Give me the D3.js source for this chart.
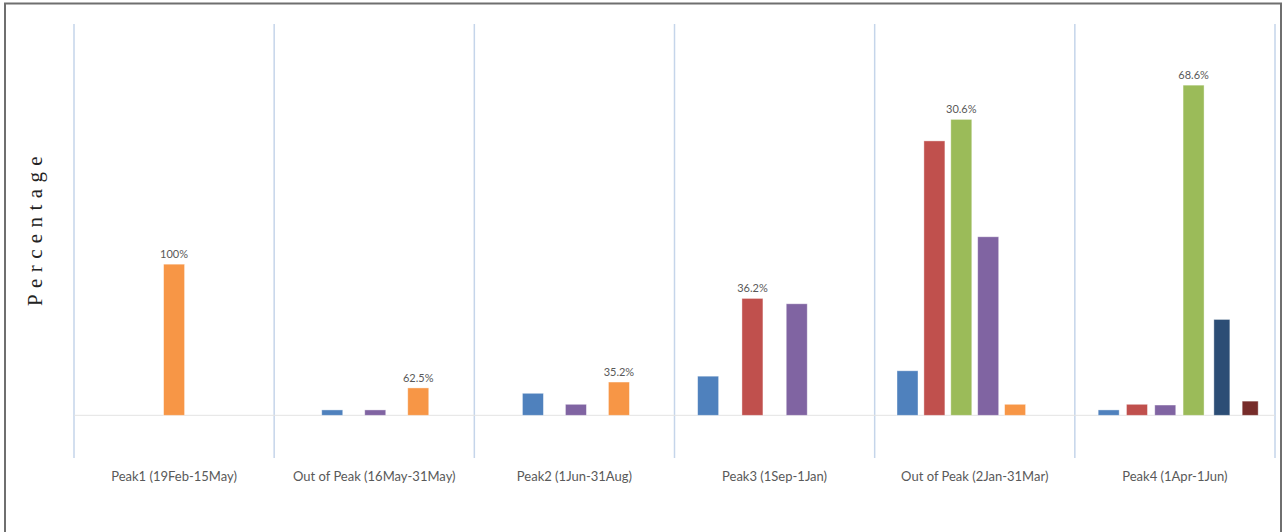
<!DOCTYPE html>
<html><head><meta charset="utf-8">
<script src="https://cdn.jsdelivr.net/npm/d3@7"></script>
<style>body{margin:0;background:#fff}svg{display:block}</style>
</head><body>
<svg id="c" width="1284" height="532"></svg>
<script>
// ---- data ----
const categories = ["Peak1 (19Feb-15May)","Out of Peak (16May-31May)","Peak2 (1Jun-31Aug)","Peak3 (1Sep-1Jan)","Out of Peak (2Jan-31Mar)","Peak4 (1Apr-1Jun)"];
const seriesKeys = ["A","B","C","D","E","F","G"];
// series present in each group, in drawing order
const groupSeries = [
  ["E"],
  ["A","D","E"],
  ["A","D","E"],
  ["A","B","D","E"],
  ["A","B","C","D","E","F"],
  ["A","B","D","C","F","G"]
];
// bar values (relative counts) per group, same order as groupSeries
const groupValues = [
  [30.9],
  [1.1, 1.1, 5.6],
  [4.5, 2.25, 6.8],
  [8.0, 23.9, 22.8, 0],
  [9.1, 56.1, 60.5, 36.5, 2.25, 0],
  [1.1, 2.25, 2.1, 67.5, 19.6, 2.9]
];
// percentage labels: [groupIndex, seriesKey, text]
const labelData = [
  [0,"E","100%"],[1,"E","62.5%"],[2,"E","35.2%"],[3,"B","36.2%"],[4,"C","30.6%"],[5,"C","68.6%"]
];
const yLabel = "Percentage";

// ---- styles / layout ----
const colors = {A:"#4f81bd",B:"#c0504d",C:"#9bbb59",D:"#8064a2",E:"#f79646",F:"#2c4d75",G:"#772c2a"};
const narrow = {F:16/21, G:16/21};
const innerStep = [43, 43, 43, 44.3, 26.9, 28.3];
const innerShift = [0, 1, 1.5, 0, 0, 4.5];
const barW = 21;

const svg = d3.select("#c");
// frame
svg.append("rect").attr("x",5).attr("y",3.5).attr("width",1276).attr("height",560)
  .attr("fill","none").attr("stroke","#6f6f6f").attr("stroke-width",2);

const x = d3.scaleBand().domain(categories).range([74,1275]).padding(0);
const y = d3.scaleLinear().domain([0,80]).range([415.3,24]);

// vertical separators
const seps = categories.map(c=>x(c)).concat([x.range()[1]]);
svg.append("g").selectAll("line").data(seps).join("line")
  .attr("x1",d=>d).attr("x2",d=>d).attr("y1",24).attr("y2",458)
  .attr("stroke","#c5d5ea").attr("stroke-width",1.5);
// baseline
svg.append("line").attr("x1",74).attr("x2",1275).attr("y1",y(0)).attr("y2",y(0))
  .attr("stroke","#e3e3e3").attr("stroke-width",1);

const inner = categories.map((c,i)=>{
  const n = groupSeries[i].length, st = innerStep[i];
  const cx = x(c) + x.bandwidth()/2 + innerShift[i];
  const p = 1 - barW/st;
  return d3.scaleBand().domain(groupSeries[i]).range([cx - n*st/2, cx + n*st/2]).paddingInner(p).paddingOuter(p/2);
});

const bars = [];
categories.forEach((c,i)=>groupSeries[i].forEach((k,j)=>bars.push({g:i,k,v:groupValues[i][j]})));
svg.append("g").selectAll("rect").data(bars.filter(d=>d.v>0)).join("rect")
  .attr("x",d=>{const s=inner[d.g]; const w=s.bandwidth()*(narrow[d.k]||1); return s(d.k)+(s.bandwidth()-w)/2;})
  .attr("width",d=>inner[d.g].bandwidth()*(narrow[d.k]||1))
  .attr("y",d=>y(d.v)).attr("height",d=>y(0)-y(d.v))
  .attr("fill",d=>colors[d.k]).attr("stroke","#ffffff").attr("stroke-opacity",0.5).attr("stroke-width",0.8);

// percentage labels
svg.append("g").selectAll("text").data(labelData).join("text")
  .attr("x",d=>inner[d[0]](d[1])+inner[d[0]].bandwidth()/2)
  .attr("y",d=>{const j=groupSeries[d[0]].indexOf(d[1]); return y(groupValues[d[0]][j])-6;})
  .attr("text-anchor","middle").attr("font-family","Lato, 'Open Sans', sans-serif").attr("font-size",11)
  .attr("fill","#595959").text(d=>d[2]);

// category labels
svg.append("g").selectAll("text").data(categories).join("text")
  .attr("x",d=>x(d)+x.bandwidth()/2).attr("y",480.5)
  .attr("text-anchor","middle").attr("font-family","Lato, 'Open Sans', sans-serif").attr("font-size",13)
  .attr("fill","#595959").text(d=>d);

// y label
svg.append("text").attr("transform","translate(42,228) rotate(-90)")
  .attr("text-anchor","middle").attr("font-family","'Liberation Serif', 'DejaVu Serif', serif")
  .attr("font-size",21).attr("letter-spacing",6.4).attr("fill","#222").text(yLabel);
</script>
</body></html>
